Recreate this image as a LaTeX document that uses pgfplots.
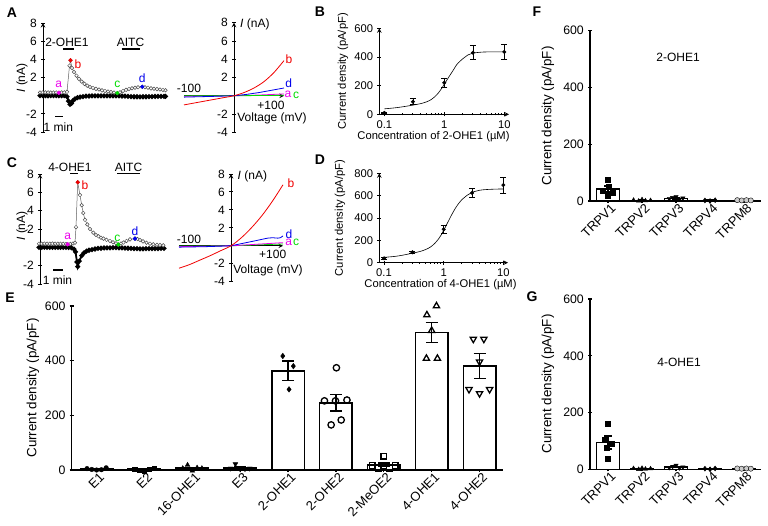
\documentclass[border=0pt]{standalone}
\usepackage{fontspec}
\setmainfont{Liberation Sans}
\usepackage{pgfplots}
\pgfplotsset{compat=1.18}
\definecolor{mag}{RGB}{235,0,235}
\definecolor{grn}{RGB}{0,220,0}
\definecolor{blu}{RGB}{0,0,235}
\definecolor{rd}{RGB}{240,0,0}
\newcommand{\fa}{\fontsize{12}{14}\selectfont}
\newcommand{\fb}{\fontsize{11.2}{13}\selectfont}
\newcommand{\fe}{\fontsize{13.4}{15}\selectfont}
\pgfplotsset{
 base/.style={scale only axis, anchor=south west, clip=false,
   axis line style={-, line width=1pt}, tick align=outside,
   major tick length=4pt, minor tick length=2.2pt,
   tick style={black, line width=0.9pt},
   /pgf/number format/assume math mode=true},
 opencirc/.style={gray!75!black, line width=0.5pt, mark=*, mark size=1.8pt,
   mark options={fill=white, draw=gray!60!black, line width=0.5pt}},
 filledtr/.style={black, line width=1.8pt, mark=*, mark size=1.5pt},
 dot/.style={only marks, mark=*, mark size=1.9pt},
 ebar/.style={error bars/.cd, y dir=both, y explicit,
   error bar style={line width=0.7pt},
   error mark options={rotate=90, mark size=3pt, line width=0.7pt}},
 bebar/.style={error bars/.cd, y dir=both, y explicit,
   error bar style={line width=1.5pt},
   error mark options={rotate=90, mark size=#1, line width=1.5pt}},
 bars/.style={base, axis lines=left, axis line style={-, line width=1.5pt},
   tick style={black, line width=1.3pt}, ymin=0, ymax=600, ytick={0,200,400,600},
   yticklabel style={font=\fontsize{12.3}{14}\selectfont},
   xticklabel style={font=\fontsize{13}{15}\selectfont, rotate=45, anchor=north east, inner sep=1pt, xshift=3pt}},
}
\begin{document}
\fa
\begin{tikzpicture}[x=1pt,y=1pt]
\useasboundingbox (0,0) rectangle (768,525);

%================ A trace
\begin{axis}[base, at={(43pt,393pt)}, width=123pt, height=109pt, xmin=43, xmax=166,
  ymin=-4, ymax=8, axis x line=none, axis y line=left, ytick={-4,-2,2,4,6,8}]
\addplot[filledtr] coordinates {(40,0)(42.7,0.02)(45.4,0)(48.1,-0.02)(50.8,0)(53.5,0.01)(56.2,0)(58.9,-0.01)(61.6,0)(64.3,0)(67,-0.1)(68.5,-0.6)(70,-0.95)(71.5,-0.85)(73,-0.55)(75,-0.35)(77.5,-0.22)(80,-0.15)(83,-0.1)(86,-0.06)(89,-0.04)(92,-0.03)(95,-0.03)(98,-0.02)(101,-0.03)(104,-0.02)(107,-0.03)(110,-0.02)(113,-0.02)(116,-0.03)(119,-0.03)(122,-0.04)(125,-0.06)(128,-0.08)(131,-0.1)(134,-0.12)(137,-0.12)(140,-0.13)(143,-0.12)(146,-0.12)(149,-0.1)(152,-0.1)(155,-0.09)(158,-0.08)(161,-0.08)(164,-0.07)(165.5,-0.07)};
\addplot[opencirc] coordinates {(40,0.35)(42.7,0.35)(45.4,0.36)(48.1,0.35)(50.8,0.34)(53.5,0.35)(56.2,0.35)(58.9,0.32)(61.6,0.35)(64.3,0.36)(67,0.42)(69.5,3.3)(70.5,3.9)(72,3.05)(74,2.6)(76.5,2.2)(79,1.85)(81.7,1.55)(84.5,1.3)(87.3,1.1)(90,0.95)(93,0.85)(96,0.75)(99,0.68)(102,0.58)(105,0.52)(108,0.46)(111,0.4)(114,0.35)(117.3,0.28)(120,0.38)(123,0.52)(126,0.64)(129,0.74)(132,0.82)(135,0.87)(138,0.92)(142.3,0.98)(145,0.93)(148,0.88)(151,0.8)(154,0.76)(157,0.72)(160,0.68)(163,0.63)(165.5,0.6)};
\addplot[dot, mag] coordinates {(58.9,0.32)};
\addplot[dot, rd] coordinates {(70.5,3.9)};
\addplot[dot, grn] coordinates {(117.3,0.28)};
\addplot[dot, blu] coordinates {(142.3,0.98)};
\end{axis}
\node[font=\fontsize{14}{16}\selectfont\bfseries] at (12,512) {A};
\node at (67,483) {2-OHE1};
\draw[line width=1.3pt] (63,476) -- (74,476);
\node at (130.5,483) {AITC};
\draw[line width=1.3pt] (121.7,476) -- (140,476);
\draw[line width=1.3pt] (55,408.3) -- (63.3,408.3);
\node at (58.3,398.3) {1 min};
\node[mag] at (58.7,441) {a};
\node[rd] at (78,461) {b};
\node[grn] at (117.3,440.5) {c};
\node[blu] at (142.3,447) {d};
\node[rotate=90] at (22,447) {\textit{I} (nA)};

%================ A IV
\begin{axis}[base, at={(184pt,392.7pt)}, width=100pt, height=109.6pt, xmin=-100, xmax=100,
  ymin=-4, ymax=8, axis x line=center, axis y line=center, xtick=\empty,
  ytick={-4,-2,2,4,6,8}]
\addplot[mag, line width=0.8pt] coordinates {(-100,-0.05)(0,0)(50,0.08)(100,0.2)};
\addplot[grn, line width=0.8pt] coordinates {(-100,0)(0,0)(100,0.05)};
\addplot[blu, line width=0.8pt] coordinates {(-100,-0.15)(-50,-0.08)(0,0)(25,0.15)(50,0.35)(75,0.6)(100,0.85)};
\addplot[rd, line width=0.8pt, smooth] coordinates {(-100,-1.0)(-80,-0.8)(-60,-0.6)(-40,-0.4)(-20,-0.2)(0,0)(20,0.35)(40,0.85)(60,1.55)(80,2.55)(100,3.85)};
\end{axis}
\node at (189,437) {-100};
\node at (271,420) {+100};
\node at (272,407) {Voltage (mV)};
\node[anchor=west] at (236,501) {\textit{I} (nA)};
\node[rd] at (289,466) {b};
\node[blu] at (288.7,442) {d};
\node[mag] at (288,431) {a};
\node[grn] at (296,430) {c};

%================ C trace
\begin{axis}[base, at={(40pt,241pt)}, width=124pt, height=110pt, xmin=40, xmax=164,
  ymin=-4, ymax=8, axis x line=none, axis y line=left, ytick={-4,-2,2,4,6,8}]
\addplot[filledtr] coordinates {(39,0)(41.7,0)(44.4,0.01)(47.1,0)(49.8,0)(52.5,-0.01)(55.2,0)(57.9,0)(60.6,0)(63.3,0)(66,0)(68.7,-0.02)(71.4,-0.05)(74,-0.2)(75.5,-0.5)(77,-1.6)(77.7,-2.1)(79.3,-1.5)(81.7,-0.9)(84,-0.6)(86.5,-0.42)(89,-0.32)(92,-0.24)(95,-0.18)(98,-0.12)(101,-0.1)(104,-0.07)(107,-0.05)(110,-0.05)(113,-0.04)(116,-0.04)(119,-0.05)(122,-0.06)(125,-0.08)(128,-0.1)(131,-0.12)(134,-0.14)(137,-0.15)(140,-0.16)(143,-0.16)(146,-0.15)(149,-0.15)(152,-0.14)(155,-0.13)(158,-0.13)(161,-0.12)(164,-0.12)};
\addplot[opencirc] coordinates {(39,0.4)(41.7,0.4)(44.4,0.41)(47.1,0.4)(49.8,0.4)(52.5,0.41)(55.2,0.4)(57.9,0.4)(60.6,0.39)(63.3,0.38)(66,0.36)(67.7,0.33)(70.4,0.38)(73,0.42)(75,0.5)(76,2.2)(77.7,7.1)(80,5.7)(81.7,4.6)(83.3,3.75)(85,3.0)(87.3,2.5)(90,2.0)(93.3,1.6)(96,1.35)(98.5,1.2)(101,1.05)(103.5,0.95)(106.5,0.82)(110,0.7)(113,0.56)(116,0.45)(118.3,0.3)(121,0.42)(123.5,0.52)(126.5,0.7)(130,0.87)(135,0.95)(137.5,0.9)(140,0.8)(143,0.65)(146.5,0.5)(150,0.4)(153.3,0.33)(157,0.28)(160,0.25)(163.3,0.22)};
\addplot[dot, mag] coordinates {(67.7,0.33)};
\addplot[dot, rd] coordinates {(77.7,7.1)};
\addplot[dot, grn] coordinates {(118.3,0.3)};
\addplot[dot, blu] coordinates {(135,0.95)};
\end{axis}
\node[font=\fontsize{14}{16}\selectfont\bfseries] at (12,362) {C};
\node at (70,358) {4-OHE1};
\draw[line width=1.3pt] (70,351.5) -- (78,351.5);
\node at (128.5,358) {AITC};
\draw[line width=1.3pt] (117,351.5) -- (140,351.5);
\draw[line width=1.3pt] (53.3,255) -- (63.3,255);
\node at (57.5,245) {1 min};
\node[mag] at (67.7,288.3) {a};
\node[rd] at (85,340) {b};
\node[grn] at (117.3,286.7) {c};
\node[blu] at (135,293.3) {d};
\node[rotate=90] at (22,299) {\textit{I} (nA)};

%================ C IV
\begin{axis}[base, at={(179pt,243.3pt)}, width=104pt, height=107.7pt, xmin=-100, xmax=100,
  ymin=-4, ymax=8, axis x line=center, axis y line=center, xtick=\empty,
  ytick={-4,-2,2,4,6,8}]
\addplot[grn, line width=0.8pt] coordinates {(-100,-0.03)(0,0)(100,0.2)};
\addplot[mag, line width=0.8pt] coordinates {(-100,-0.1)(0,0)(100,0.35)};
\addplot[blu, line width=0.8pt] coordinates {(-100,-0.15)(-50,-0.1)(0,0)(25,0.3)(50,0.6)(70,0.85)(80,0.9)(90,0.85)(95,0.9)(100,1.1)};
\addplot[rd, line width=0.8pt, smooth] coordinates {(-100,-2.5)(-80,-2.1)(-60,-1.6)(-40,-1.1)(-20,-0.55)(0,0)(20,0.9)(40,2.05)(60,3.4)(80,5.0)(100,6.8)};
\end{axis}
\node at (189,286) {-100};
\node at (272.7,271) {+100};
\node at (268,255) {Voltage (mV)};
\node[anchor=west] at (233.5,348.3) {\textit{I} (nA)};
\node[rd] at (291,341.7) {b};
\node[blu] at (289,291) {d};
\node[mag] at (288.7,282.7) {a};
\node[grn] at (296,282.3) {c};

%================ B
\begin{axis}[base, at={(379.3pt,410.7pt)}, width=129.7pt, height=86pt, xmode=log,
  xmin=0.0825, xmax=11.97, ymin=0, ymax=600, axis lines=left,
  tick label style={font=\fb},
  xtick={0.1,1,10}, xticklabels={0.1,1,10},
  minor xtick={0.2,0.3,0.4,0.5,0.6,0.7,0.8,0.9,2,3,4,5,6,7,8,9},
  ytick={0,200,400,600}]
\addplot[black, line width=0.6pt, smooth] coordinates {(0.1,38)(0.15,45)(0.2,52)(0.3,64)(0.4,74)(0.5,86)(0.6,102)(0.7,124)(0.8,150)(0.9,180)(1,210)(1.2,263)(1.4,306)(1.6,345)(1.8,368)(2,385)(2.5,415)(3,427)(4,433)(5,435)(7,435)(10,435)};
\addplot[only marks, mark=*, mark size=1.8pt, ebar] coordinates {(0.1,10)+-(0,4)(0.3,88)+-(0,20)(1,220)+-(0,32)(3,430)+-(0,48)(10,435)+-(0,55)};
\end{axis}
\node[font=\fontsize{14}{16}\selectfont\bfseries] at (320,513) {B};
\node[rotate=90, font=\fb] at (343,453.7) {Current density (pA/pF)};
\node[font=\fb] at (433.5,388) {Concentration of 2-OHE1 (µM)};

%================ D
\begin{axis}[base, at={(379.3pt,262.3pt)}, width=128.7pt, height=89.4pt, xmode=log,
  xmin=0.0834, xmax=11.97, ymin=0, ymax=800, axis lines=left,
  tick label style={font=\fb},
  xtick={0.1,1,10}, xticklabels={0.1,1,10},
  minor xtick={0.2,0.3,0.4,0.5,0.6,0.7,0.8,0.9,2,3,4,5,6,7,8,9},
  ytick={0,200,400,600,800}]
\addplot[black, line width=0.6pt, smooth] coordinates {(0.1,48)(0.15,56)(0.2,66)(0.3,85)(0.4,100)(0.5,118)(0.6,140)(0.7,170)(0.8,205)(0.9,245)(1,289)(1.2,372)(1.4,441)(1.6,494)(1.8,533)(2,562)(2.5,605)(3,630)(4,648)(5,654)(7,658)(10,660)};
\addplot[only marks, mark=*, mark size=1.8pt, ebar] coordinates {(0.1,39)+-(0,8)(0.3,93)+-(0,10)(1,299)+-(0,34)(3,625)+-(0,40)(10,695)+-(0,72)};
\end{axis}
\node[font=\fontsize{14}{16}\selectfont\bfseries] at (320,365) {D};
\node[rotate=90, font=\fb] at (340,307) {Current density (pA/pF)};
\node[font=\fb] at (440.5,240) {Concentration of 4-OHE1 (µM)};

%================ E
\begin{axis}[bars, at={(71.7pt,55pt)}, width=431.3pt, height=164pt, xmin=-0.52, xmax=8.49,
  xtick={0,...,8}, xticklabels={E1,E2,16-OHE1,E3,2-OHE1,2-OHE2,2-MeOE2,4-OHE1,4-OHE2}]
\addplot[ybar, bar width=32.5pt, fill=white, draw=black, line width=1.5pt, bebar=6pt]
  coordinates {(0,3)+-(0,2)(1,3)+-(0,2)(2,7)+-(0,3)(3,8)+-(0,4)(4,363)+-(0,36)(5,246)+-(0,30)(6,19)+-(0,7)(7,503)+-(0,37)(8,381)+-(0,46)};
\addplot[only marks, mark=*, mark size=2.3pt] coordinates {(-0.2,5)(-0.1,2)(0,0)(0.1,1)(0.2,8)};
\addplot[only marks, mark=square*, mark size=2.2pt] coordinates {(0.8,3)(0.9,0)(1,-2)(1.1,2)(1.2,6)};
\addplot[only marks, mark=triangle*, mark size=2.8pt] coordinates {(1.8,6)(1.9,18)(2,-3)(2.1,8)(2.2,6)};
\addplot[only marks, mark=triangle*, mark size=2.8pt, mark options={rotate=180}] coordinates {(2.8,6)(2.9,22)(3,3)(3.1,4)(3.2,6)};
\addplot[only marks, mark=diamond*, mark size=2.8pt] coordinates {(3.89,417)(4.11,380)(4.02,295)};
\addplot[only marks, mark=o, mark size=3.2pt, mark options={line width=1.3pt}] coordinates {(5.01,374)(4.76,253)(4.99,253)(5.23,256)(4.9,165)(5.11,183)};
\addplot[only marks, mark=square, mark size=2.8pt, mark options={line width=1.3pt}] coordinates {(6,50)(5.76,17)(5.88,6)(6,17)(6.12,6)(6.24,17)};
\addplot[only marks, mark=triangle, mark size=3.6pt, mark options={line width=1.3pt}] coordinates {(7.1,600)(6.9,567)(6.89,408)(7.12,408)(7,510)};
\addplot[only marks, mark=triangle, mark size=3.6pt, mark options={line width=1.3pt, rotate=180}] coordinates {(7.87,479)(8.09,479)(8,396)(7.78,295)(8,280)(8.21,295)};
\end{axis}
\node[font=\fontsize{14}{16}\selectfont\bfseries] at (10,227) {E};
\node[rotate=90, font=\fe] at (33,137) {Current density (pA/pF)};

%================ F
\begin{axis}[bars, at={(590pt,324pt)}, width=170.7pt, height=170.3pt, xmin=-0.53, xmax=4.49,
  xtick={0,...,4}, xticklabels={TRPV1,TRPV2,TRPV3,TRPV4,TRPM8}]
\addplot[ybar, bar width=23pt, fill=white, draw=black, line width=1.5pt, bebar=4pt]
  coordinates {(0,42)+-(0,10)(1,2)+-(0,1)(2,9)+-(0,2)(3,2)+-(0,1)(4,2)+-(0,1)};
\addplot[only marks, mark=square*, mark size=2.5pt] coordinates {(0,74)(0.02,50)(-0.15,35)(0.15,30)(0,20)};
\addplot[only marks, mark=triangle*, mark size=2.5pt] coordinates {(0.75,3)(0.9,0)(1,5)(1.1,1)(1.25,2)};
\addplot[only marks, mark=triangle*, mark size=2.5pt, mark options={rotate=180}] coordinates {(1.8,8)(1.9,12)(2,15)(2.1,6)(2.2,10)};
\addplot[only marks, mark=diamond*, mark size=2.5pt] coordinates {(2.85,2)(3,0)(3.15,3)};
\addplot[only marks, mark=*, mark size=2.6pt, mark options={draw=black, fill=gray!40}] coordinates {(3.8,3)(3.93,2)(4.07,3)(4.2,2)};
\end{axis}
\node[font=\fontsize{14}{16}\selectfont\bfseries] at (537,513) {F};
\node[rotate=90, font=\fe] at (548,409) {Current density (pA/pF)};
\node at (678,468) {2-OHE1};

%================ G
\begin{axis}[bars, at={(590pt,55.7pt)}, width=170.7pt, height=170.3pt, xmin=-0.53, xmax=4.49,
  xtick={0,...,4}, xticklabels={TRPV1,TRPV2,TRPV3,TRPV4,TRPM8}]
\addplot[ybar, bar width=23pt, fill=white, draw=black, line width=1.5pt, bebar=4pt]
  coordinates {(0,94)+-(0,23)(1,2)+-(0,1)(2,8)+-(0,2)(3,2)+-(0,1)(4,2)+-(0,1)};
\addplot[only marks, mark=square*, mark size=2.5pt] coordinates {(0,162)(-0.1,105)(0.1,90)(-0.05,75)(0,39)};
\addplot[only marks, mark=triangle*, mark size=2.5pt] coordinates {(0.75,3)(0.9,0)(1,4)(1.1,1)(1.25,2)};
\addplot[only marks, mark=triangle*, mark size=2.5pt, mark options={rotate=180}] coordinates {(1.8,6)(1.9,10)(2,14)(2.1,5)(2.2,8)};
\addplot[only marks, mark=diamond*, mark size=2.5pt] coordinates {(2.85,2)(3,0)(3.15,3)};
\addplot[only marks, mark=*, mark size=2.6pt, mark options={draw=black, fill=gray!40}] coordinates {(3.8,3)(3.93,2)(4.07,3)(4.2,2)};
\end{axis}
\node[font=\fontsize{14}{16}\selectfont\bfseries] at (532,228) {G};
\node[rotate=90, font=\fe] at (548,141) {Current density (pA/pF)};
\node at (679,163) {4-OHE1};
\end{tikzpicture}
\end{document}
